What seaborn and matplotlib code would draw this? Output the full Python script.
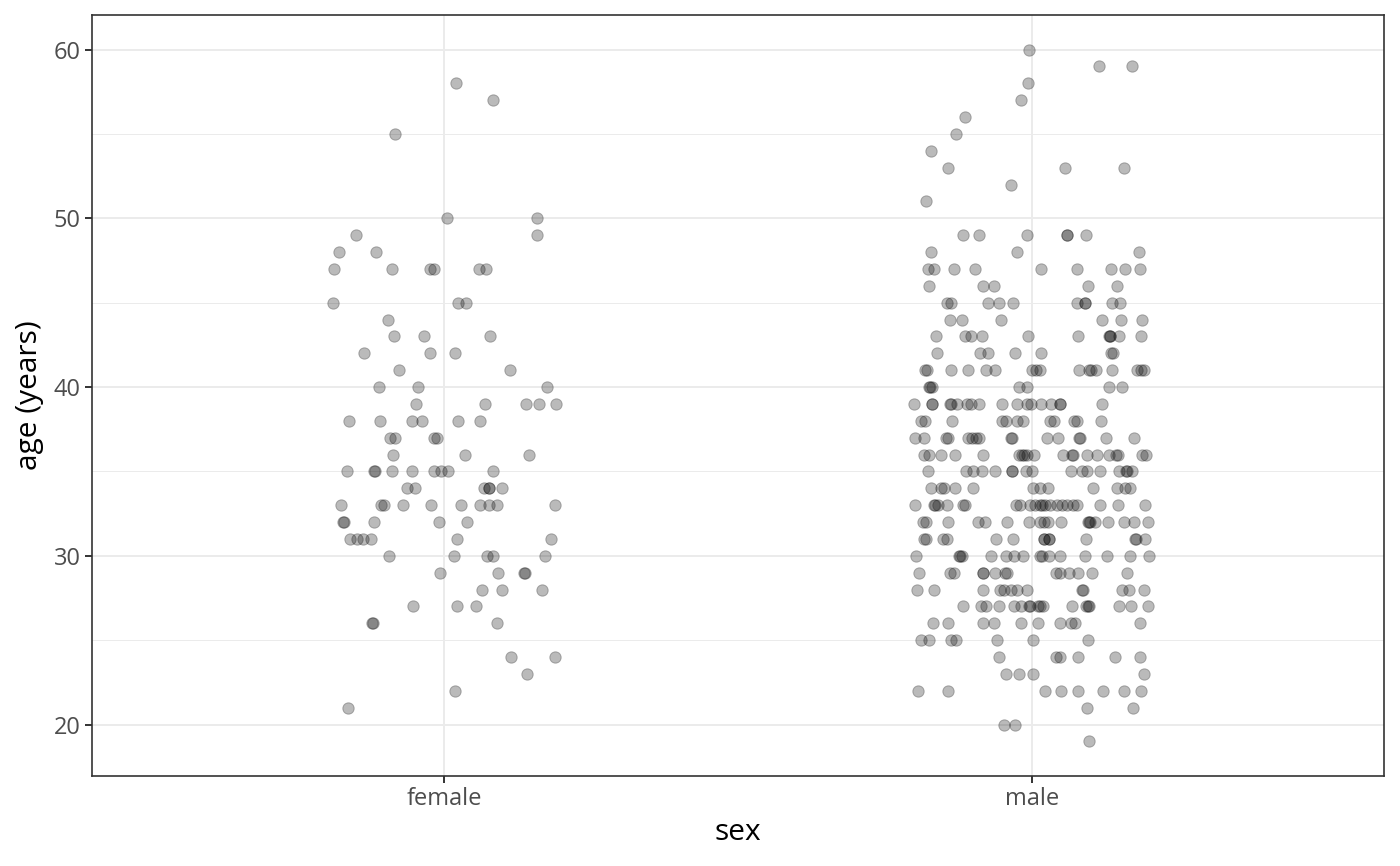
import numpy as np
import pandas as pd
import seaborn as sns
import matplotlib.pyplot as plt
from matplotlib.ticker import MultipleLocator

# ages, with how many points sit on each age
sex_levels = ['female', 'male']
female_ages = [58, 57, 55, 50, 49, 48, 47, 45, 44, 43, 42, 41, 40, 39, 38, 37,
               36, 35, 34, 33, 32, 31, 30, 29, 28, 27, 26, 24, 23, 22, 21]
female_counts = [1, 1, 1, 2, 2, 2, 6, 3, 1, 3, 3, 2, 3, 5, 6, 4,
                 3, 9, 6, 10, 5, 6, 5, 4, 3, 3, 3, 2, 1, 1, 1]
male_ages = [60, 59, 58, 57, 56, 55, 54, 53, 52, 51, 49, 48, 47, 46, 45, 44,
             43, 42, 41, 40, 39, 38, 37, 36, 35, 34, 33, 32, 31, 30, 29, 28,
             27, 26, 25, 24, 23, 22, 21, 20, 19]
male_counts = [1, 2, 1, 1, 1, 1, 1, 3, 1, 1, 6, 3, 9, 5, 10, 6,
               11, 7, 17, 7, 18, 12, 16, 20, 17, 12, 23, 19, 14, 16, 14, 13,
               18, 10, 7, 6, 4, 8, 2, 2, 1]

df = pd.DataFrame({
    'sex': ['female'] * sum(female_counts) + ['male'] * sum(male_counts),
    'age': np.concatenate([np.repeat(female_ages, female_counts),
                           np.repeat(male_ages, male_counts)]),
})

sns.set_style('white')
plt.rcParams['font.family'] = ['Open Sans', 'DejaVu Sans']

fig, ax = plt.subplots(figsize=(14, 8.66), dpi=100)
fig.subplots_adjust(left=0.0657, right=0.9886, top=0.9827, bottom=0.1039)

np.random.seed(3)  # jitter only, keeps the layout reproducible
sns.stripplot(data=df, x='sex', y='age', order=sex_levels, jitter=0.2,
              color='black', alpha=0.27, size=8.2, linewidth=0.7,
              edgecolor='black', ax=ax, zorder=3)

ax.set_xlim(-0.6, 1.6)
ax.set_ylim(16.95, 62.05)
ax.yaxis.set_major_locator(MultipleLocator(10))
ax.yaxis.set_minor_locator(MultipleLocator(5))

ax.grid(True, which='major', color='#EBEBEB', linewidth=1.4, zorder=0)
ax.grid(True, which='minor', axis='y', color='#EBEBEB', linewidth=0.7, zorder=0)
ax.set_axisbelow(True)

for side in ax.spines.values():
    side.set_visible(True)
    side.set_color('#333333')
    side.set_linewidth(1.2)

ax.tick_params(axis='both', which='major', length=5, width=1.4, color='#333333',
               labelsize=17, labelcolor='#4D4D4D', pad=3, left=True, bottom=True)
ax.tick_params(axis='y', which='minor', length=0)

ax.set_xlabel('sex', fontsize=21.5, color='black', labelpad=5)
ax.set_ylabel('age (years)', fontsize=21.5, color='black', labelpad=7)

fig.savefig('out.png', dpi=100, facecolor='white')
